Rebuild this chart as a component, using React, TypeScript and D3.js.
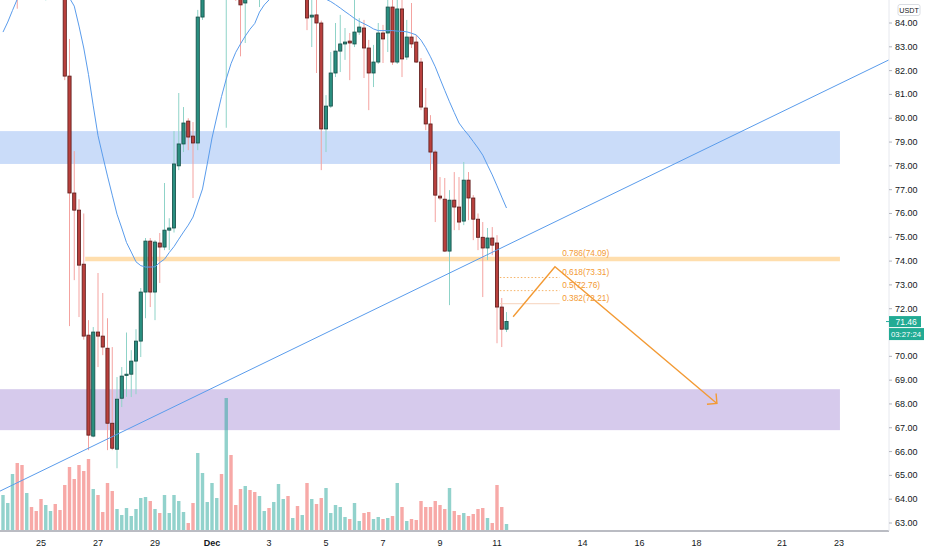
import React from "react";
import * as d3 from "d3";

// 4h candles, index 0 = Nov 23 16:00
const opens = [
  86.2, 86.8, 87.3, 88.1, 86.9, 86.0, 86.8, 86.5, 86.2, 85.7, 86.0, 86.3, 86.1, 85.8, 81.77, 76.86, 76.14, 73.87, 70.89, 66.65,
  71.02, 70.85, 70.34, 67.19, 66.1, 68.24, 69.2, 69.25, 69.8, 70.64, 72.7, 74.84, 72.7, 74.76, 74.59, 75.3, 75.39, 78.0, 78.92, 79.88,
  79.25, 78.96, 84.25, 85.5, 86.3, 87.4, 87.9, 86.8, 87.6, 86.0, 85.5, 84.84, 85.6, 85.3, 85.1, 85.8, 86.2, 85.9, 86.3, 87.0,
  87.3, 86.6, 86.8, 86.3, 86.5, 84.25, 84.34, 84.0, 79.55, 80.51, 81.9, 82.82, 83.12, 83.24, 83.12, 83.62, 83.79, 82.95, 81.9, 82.36,
  83.58, 83.58, 84.67, 82.36, 84.59, 82.57, 83.41, 83.2, 82.36, 80.43, 79.76, 78.58, 76.73, 76.6, 74.42, 76.56, 76.27, 75.68, 77.4, 76.65,
  75.76, 75.0, 74.55, 74.97, 74.76, 72.07, 71.14,
];
const highs = [
  87.2, 87.6, 88.4, 88.5, 87.3, 87.1, 87.0, 86.8, 86.5, 86.3, 86.5, 86.6, 86.4, 86.0, 83.33, 78.62, 76.6, 76.0, 71.52, 71.23,
  73.5, 72.66, 71.6, 70.39, 69.13, 69.55, 71.0, 70.26, 71.14, 72.87, 74.97, 74.97, 74.88, 75.18, 77.28, 75.8, 79.46, 81.06, 80.47, 80.0,
  79.84, 84.55, 85.8, 86.6, 87.8, 88.3, 88.2, 88.6, 87.9, 86.3, 85.8, 85.9, 85.9, 85.6, 86.1, 86.5, 86.4, 86.6, 87.4, 87.6,
  87.5, 87.0, 87.0, 86.7, 86.7, 85.2, 85.1, 84.1, 80.97, 82.78, 84.0, 84.34, 83.79, 83.58, 85.1, 84.2, 84.13, 83.29, 83.08, 84.0,
  83.92, 85.2, 85.2, 85.2, 85.2, 84.13, 84.84, 83.5, 82.53, 81.27, 80.13, 78.66, 77.53, 77.49, 76.98, 77.74, 77.53, 78.16, 77.74, 76.77,
  76.0, 75.64, 75.39, 75.43, 75.09, 72.45, 71.86,
];
const lows = [
  85.9, 86.4, 86.9, 84.6, 85.3, 85.7, 86.1, 85.9, 85.4, 84.95, 85.8, 85.8, 85.5, 81.6, 71.27, 73.2, 71.65, 70.7, 66.06, 66.6,
  69.55, 70.05, 66.06, 66.06, 65.3, 67.87, 68.3, 68.29, 68.41, 69.97, 71.6, 72.07, 71.52, 73.08, 74.46, 74.46, 75.2, 77.82, 78.58, 78.66,
  76.65, 78.66, 84.13, 85.3, 86.0, 87.0, 86.4, 79.6, 85.2, 84.93, 82.6, 83.16, 85.1, 85.0, 84.67, 85.5, 85.6, 85.7, 86.0, 86.8,
  86.3, 86.4, 86.0, 85.8, 83.7, 82.99, 81.9, 77.82, 78.58, 80.43, 81.73, 81.94, 82.45, 81.6, 82.99, 83.5, 81.69, 80.34, 81.31, 82.28,
  82.32, 82.78, 82.24, 82.28, 81.73, 82.45, 82.95, 82.32, 80.34, 79.5, 77.82, 75.64, 76.56, 74.38, 72.15, 75.3, 75.3, 75.51, 75.72, 74.88,
  74.46, 72.49, 74.04, 74.25, 70.55, 70.39, 71.02,
];
const closes = [
  86.8, 87.3, 88.1, 86.9, 86.0, 86.8, 86.5, 86.2, 85.7, 86.0, 86.3, 86.1, 85.8, 81.77, 76.86, 76.14, 73.83, 70.85, 66.69, 71.02,
  70.85, 70.39, 67.19, 66.14, 68.2, 69.17, 69.25, 69.8, 70.64, 72.7, 74.84, 72.7, 74.8, 74.59, 75.3, 75.39, 78.08, 78.92, 79.8, 79.21,
  78.96, 84.25, 85.5, 86.3, 87.4, 87.9, 86.8, 87.6, 86.0, 85.5, 84.76, 85.6, 85.3, 85.1, 85.8, 86.2, 85.9, 86.3, 87.0, 87.3,
  86.6, 86.8, 86.3, 86.5, 84.21, 84.33, 84.0, 79.55, 80.51, 81.9, 82.82, 83.12, 83.2, 83.16, 83.62, 83.83, 82.95, 81.9, 82.36, 83.58,
  83.33, 84.67, 82.36, 84.59, 82.49, 83.41, 83.12, 82.36, 80.47, 79.76, 78.58, 76.77, 76.65, 74.42, 76.56, 76.27, 75.64, 77.4, 76.65, 75.76,
  75.0, 74.55, 74.97, 74.67, 72.07, 71.14, 71.46,
];
const volumes = [
  350, 270, 560, 670, 650, 370, 230, 190, 310, 250, 190, 260, 200, 450, 630, 510, 650, 590, 710, 410,
  350, 180, 470, 390, 210, 150, 220, 140, 210, 320, 330, 290, 210, 170, 350, 170, 350, 290, 180, 70,
  270, 770, 570, 280, 470, 320, 560, 1320, 750, 250, 410, 440, 400, 380, 340, 190, 220, 280, 460, 310,
  340, 120, 240, 150, 470, 310, 260, 320, 420, 170, 250, 230, 130, 110, 270, 90, 170, 180, 110, 130,
  110, 120, 140, 470, 230, 90, 110, 100, 290, 230, 230, 290, 250, 210, 420, 190, 150, 170, 140, 160,
  210, 220, 120, 70, 450, 230, 60,
];
const maValues = [
  83.62, 84.04, 84.53, 85.0, 85.4, 85.8, 86.1, 86.3, 86.4, 86.4, 86.2, 85.9, 85.5, 85.25, 85.05, 84.71, 83.87, 82.95, 81.83, 80.52,
  79.27, 78.41, 77.57, 76.77, 75.97, 75.39, 74.78, 74.38, 73.97, 73.81, 73.75, 73.75, 73.76, 73.94, 74.08, 74.36, 74.61, 74.92, 75.22, 75.51,
  75.85, 76.44, 77.03, 78.08, 79.17, 80.05, 80.91, 81.65, 82.29, 82.77, 83.12, 83.45, 83.74, 83.98, 84.46, 84.76, 84.97, 85.2, 85.4, 85.6,
  85.7, 85.8, 85.8, 85.7, 85.6, 85.45, 85.3, 85.15, 85.0, 84.9, 84.77, 84.63, 84.48, 84.34, 84.19, 84.07, 83.97, 83.87, 83.75, 83.68,
  83.68, 83.68, 83.68, 83.66, 83.65, 83.63, 83.57, 83.5, 83.28, 82.96, 82.58, 82.16, 81.66, 81.17, 80.69, 80.24, 79.8, 79.53, 79.29, 79.02,
  78.75, 78.45, 78.03, 77.62, 77.16, 76.69, 76.23,
];

const priceTicks = [63, 64, 65, 66, 67, 68, 69, 70, 71, 72, 73, 74, 75, 76, 77, 78, 79, 80, 81, 82, 83, 84];
const dayTickIndex = [8, 20, 32, 44, 56, 68, 80, 92, 104, 122, 134, 146, 164, 176];
const dayTickLabels = ["25", "27", "29", "Dec", "3", "5", "7", "9", "11", "14", "16", "18", "21", "23"];

const fibLevels = [0.786, 0.618, 0.5, 0.382];
const fibPrices = [74.09, 73.31, 72.76, 72.21];
const fibRange = [104.6, 117.2];

const blueZone = [78.08, 79.46];
const purpleZone = [66.9, 68.62];
const zoneRange = [-1, 176.2];
const orangeLevel = 74.09;
const orangeStart = 17.3;

const trendIdx = [-0.63, 186.5];
const trendPrice = [64.34, 82.45];

const projIdx = [107.4, 116.2, 150.3];
const projPrice = [71.66, 73.76, 68.02];

const countdown = "03:27:24";

const W = 932;
const H = 550;
const axisX = 889;
const axisY = 531;

const UP = "#26a69a";
const UP_BODY = "#2a8f80";
const UP_EDGE = "#134c45";
const UP_WICK = "#8fd3c8";
const DOWN_BODY = "#b9403d";
const DOWN_EDGE = "#5a1b1a";
const DOWN_WICK = "#f4a3a0";
const ORANGE = "#f39a34";
const BLUE = "#5a9cec";
const FONT = "'Liberation Sans', Arial, sans-serif";

const App: React.FC = () => {
  const x = d3.scaleLinear().domain([0, 176]).range([3, 3 + 4.75 * 176]);
  const y = d3.scaleLinear().domain([63, 84]).range([523, 23]);
  const v = d3.scaleLinear().domain([0, 1320]).range([530, 398]);

  const idx = d3.range(closes.length);
  const bw = 3.2;

  const maLine = d3
    .line<number>()
    .x((i) => x(i))
    .y((i) => y(maValues[i]));

  const proj = d3
    .line<number>()
    .x((i) => x(projIdx[i]))
    .y((i) => y(projPrice[i]));

  // arrow head at end of projection
  const tipX = x(projIdx[2]);
  const tipY = y(projPrice[2]);
  const ang = Math.atan2(tipY - y(projPrice[1]), tipX - x(projIdx[1]));
  const headLen = 10;
  const head = [ang + Math.PI - Math.PI / 4, ang + Math.PI + Math.PI / 4].map((a) => [
    tipX + headLen * Math.cos(a),
    tipY + headLen * Math.sin(a),
  ]);

  const last = closes[closes.length - 1];
  // axis labels hidden behind the last-price / countdown tags
  const tagTop = y(last) - 6;
  const tagBottom = y(last) + 19;

  return (
    <svg
      width={W}
      height={H}
      style={{ position: "absolute", left: 0, top: 0, background: "#fff", fontFamily: FONT }}
    >
      <defs>
        <clipPath id="plot">
          <rect x={0} y={0} width={axisX} height={axisY} />
        </clipPath>
      </defs>

      <g clipPath="url(#plot)">
        {/* zones */}
        <rect
          x={x(zoneRange[0])}
          width={x(zoneRange[1]) - x(zoneRange[0])}
          y={y(blueZone[1])}
          height={y(blueZone[0]) - y(blueZone[1])}
          fill="rgba(33,110,230,0.24)"
        />
        <rect
          x={x(zoneRange[0])}
          width={x(zoneRange[1]) - x(zoneRange[0])}
          y={y(purpleZone[1])}
          height={y(purpleZone[0]) - y(purpleZone[1])}
          fill="rgba(103,58,183,0.27)"
        />

        {/* volume */}
        {idx.map((i) => (
          <rect
            key={"v" + i}
            x={x(i) - 1.7}
            width={3.4}
            y={v(volumes[i])}
            height={v(0) - v(volumes[i])}
            fill={closes[i] >= opens[i] ? "rgba(38,166,154,0.5)" : "rgba(239,83,80,0.5)"}
          />
        ))}

        {/* orange level */}
        <line
          x1={x(orangeStart)}
          x2={x(zoneRange[1])}
          y1={y(orangeLevel)}
          y2={y(orangeLevel)}
          stroke="rgba(255,152,0,0.32)"
          strokeWidth={4.5}
        />

        {/* candles */}
        {idx.map((i) => {
          const up = closes[i] >= opens[i];
          const top = y(Math.max(opens[i], closes[i]));
          const bot = y(Math.min(opens[i], closes[i]));
          return (
            <g key={"c" + i}>
              <line
                x1={x(i)}
                x2={x(i)}
                y1={y(highs[i])}
                y2={y(lows[i])}
                stroke={up ? UP_WICK : DOWN_WICK}
                strokeWidth={1}
              />
              <rect
                x={x(i) - bw / 2}
                width={bw}
                y={top}
                height={Math.max(bot - top, 1)}
                fill={up ? UP_BODY : DOWN_BODY}
                stroke={up ? UP_EDGE : DOWN_EDGE}
                strokeWidth={0.8}
              />
            </g>
          );
        })}

        {/* moving average */}
        <path d={maLine(idx) || ""} fill="none" stroke={BLUE} strokeWidth={1} />

        {/* trend line */}
        <line
          x1={x(trendIdx[0])}
          y1={y(trendPrice[0])}
          x2={x(trendIdx[1])}
          y2={y(trendPrice[1])}
          stroke={BLUE}
          strokeWidth={1}
        />

        {/* fib retracement */}
        {fibPrices.map((p, k) =>
          k === 0 ? null : (
            <line
              key={"f" + k}
              x1={x(fibRange[0])}
              x2={x(fibRange[1])}
              y1={y(p)}
              y2={y(p)}
              stroke={k === 3 ? "#f6d3bd" : ORANGE}
              strokeOpacity={k === 3 ? 1 : 0.75}
              strokeWidth={1}
              strokeDasharray={k === 3 ? undefined : "1.5,2"}
            />
          )
        )}
        {fibPrices.map((p, k) => (
          <text
            key={"fl" + k}
            x={x(fibRange[1]) + 2.5}
            y={y(p) - 5.5}
            fontSize={8.3}
            fill={ORANGE}
            dominantBaseline="central"
          >
            {`${fibLevels[k]}(${p.toFixed(2)})`}
          </text>
        ))}

        {/* projection arrow */}
        <path d={proj([0, 1, 2]) || ""} fill="none" stroke={ORANGE} strokeWidth={1.4} />
        <path
          d={`M${head[0][0]},${head[0][1]}L${tipX},${tipY}L${head[1][0]},${head[1][1]}`}
          fill="none"
          stroke={ORANGE}
          strokeWidth={1.4}
        />
      </g>

      {/* time axis */}
      <line x1={0} x2={axisX} y1={axisY} y2={axisY} stroke="#a3a6af" strokeWidth={1.5} />
      {dayTickIndex.map((d, k) => (
        <text
          key={"t" + k}
          x={x(d)}
          y={543}
          fontSize={9}
          textAnchor="middle"
          dominantBaseline="central"
          fill="#131722"
          fontWeight={dayTickLabels[k] === "Dec" ? "bold" : "normal"}
        >
          {dayTickLabels[k]}
        </text>
      ))}

      {/* price axis */}
      <line x1={axisX} x2={axisX} y1={0} y2={axisY} stroke="#e6e8ee" strokeWidth={1} />
      {priceTicks.map((p) => (
        <g key={"p" + p}>
          <line x1={axisX} x2={axisX + 3} y1={y(p)} y2={y(p)} stroke="#b2b5be" strokeWidth={1} />
          {y(p) > tagTop - 5 && y(p) < tagBottom + 5 ? null : (
            <text x={895} y={y(p)} fontSize={9} dominantBaseline="central" fill="#131722">
              {p.toFixed(2)}
            </text>
          )}
        </g>
      ))}
      <rect x={898} y={4.5} width={22} height={11} rx={2} fill="#fff" stroke="#d1d4dc" strokeWidth={0.8} />
      <text x={909} y={10.2} fontSize={7.2} textAnchor="middle" dominantBaseline="central" fill="#131722">
        USDT
      </text>

      {/* last price tag */}
      <line x1={axisX - 3} x2={axisX} y1={y(last)} y2={y(last)} stroke={UP} strokeWidth={1} />
      <rect x={axisX} y={y(last) - 5.5} width={32} height={11} fill="#22ab94" />
      <text x={895.5} y={y(last)} fontSize={8.5} dominantBaseline="central" fill="#fff">
        {last.toFixed(2)}
      </text>
      <rect x={axisX} y={y(last) + 6.5} width={35} height={12} fill="#22ab94" />
      <text
        x={891}
        y={y(last) + 12.6}
        fontSize={8}
        textLength={30}
        lengthAdjust="spacingAndGlyphs"
        dominantBaseline="central"
        fill="#fff"
      >
        {countdown}
      </text>
    </svg>
  );
};

export default App;
